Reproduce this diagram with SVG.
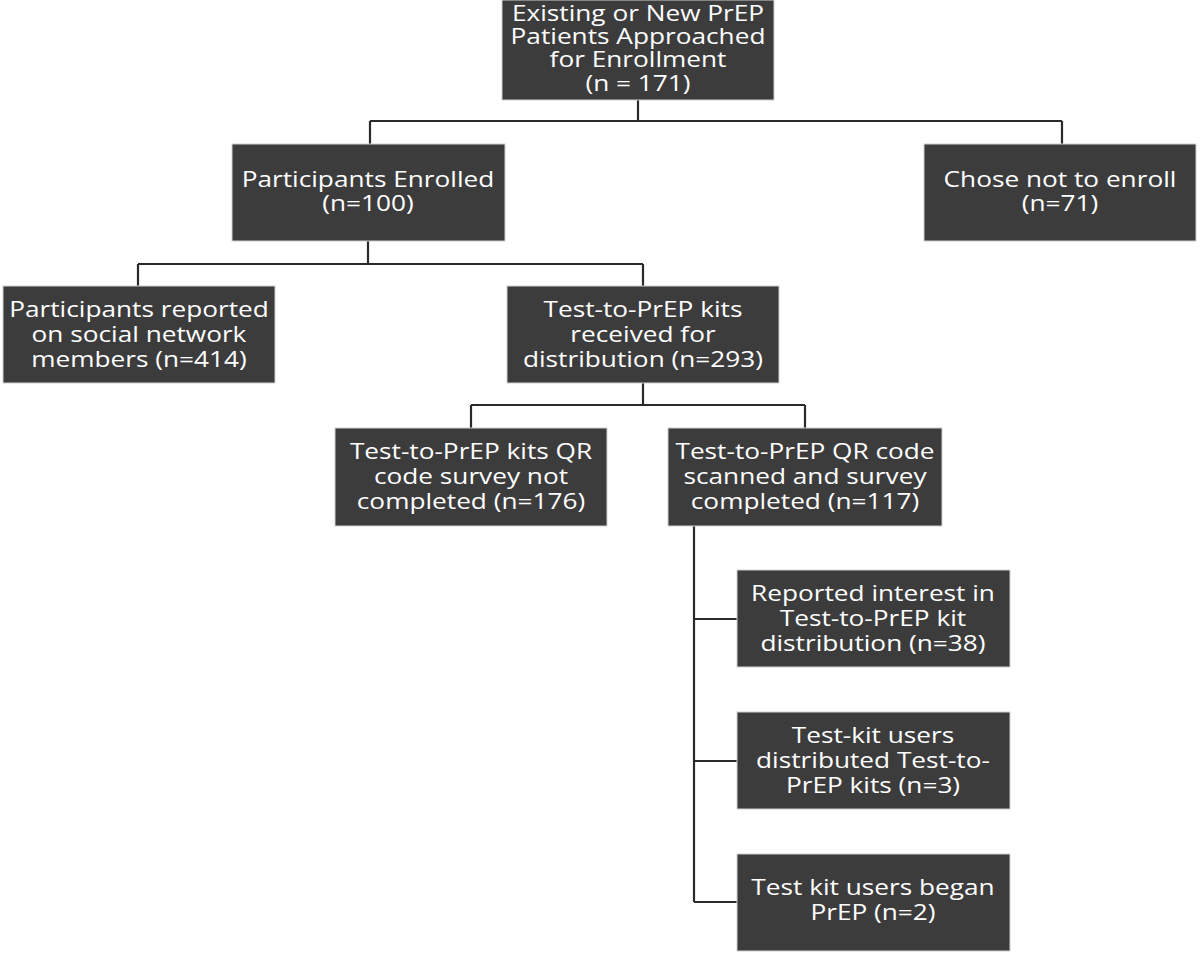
<svg xmlns="http://www.w3.org/2000/svg" width="1200" height="954" viewBox="0 0 1200 954">
<style>
.box{fill:#3c3c3c;stroke:#d0d0d0;stroke-width:1}
.t{font-family:"Open Sans","Liberation Sans",sans-serif;font-size:21.5px;fill:#ffffff;text-anchor:middle}
.c{fill:none;stroke:#2a2a2a;stroke-width:2.2}
</style>
<rect width="1200" height="954" fill="#ffffff"/>
<g id="connectors">
<path class="c" d="M638,100 V121 M370,121 H1062 M370,121 V144 M1062,121 V144"/>
<path class="c" d="M368,241 V264 M138,264 H643 M138,264 V286 M643,264 V286"/>
<path class="c" d="M643,383 V405 M471,405 H805 M471,405 V428 M805,405 V428"/>
<path class="c" d="M694,526 V902 M694,619 H737 M694,761 H737 M694,902 H737"/>
</g>
<g id="n1"><rect class="box" x="502" y="0" width="272" height="100"/>
<text class="t" transform="translate(638,21) scale(1.22,1)">Existing or New PrEP</text>
<text class="t" transform="translate(638,44) scale(1.22,1)">Patients Approached</text>
<text class="t" transform="translate(638,67) scale(1.22,1)">for Enrollment</text>
<text class="t" transform="translate(638,91) scale(1.22,1)">(n = 171)</text></g>
<g id="n2"><rect class="box" x="232" y="144" width="273" height="97"/>
<text class="t" transform="translate(368,187) scale(1.22,1)">Participants Enrolled</text>
<text class="t" transform="translate(368,211) scale(1.22,1)">(n=100)</text></g>
<g id="n3"><rect class="box" x="924" y="144" width="272" height="97"/>
<text class="t" transform="translate(1060,187) scale(1.22,1)">Chose not to enroll</text>
<text class="t" transform="translate(1060,211) scale(1.22,1)">(n=71)</text></g>
<g id="n4"><rect class="box" x="3" y="286" width="272" height="97"/>
<text class="t" transform="translate(139,317) scale(1.22,1)">Participants reported</text>
<text class="t" transform="translate(139,342) scale(1.22,1)">on social network</text>
<text class="t" transform="translate(139,367) scale(1.22,1)">members (n=414)</text></g>
<g id="n5"><rect class="box" x="507" y="286" width="272" height="97"/>
<text class="t" transform="translate(643,317) scale(1.22,1)">Test-to-PrEP kits</text>
<text class="t" transform="translate(643,342) scale(1.22,1)">received for</text>
<text class="t" transform="translate(643,367) scale(1.22,1)">distribution (n=293)</text></g>
<g id="n6"><rect class="box" x="335" y="428" width="272" height="98"/>
<text class="t" transform="translate(471,459) scale(1.22,1)">Test-to-PrEP kits QR</text>
<text class="t" transform="translate(471,484) scale(1.22,1)">code survey not</text>
<text class="t" transform="translate(471,509) scale(1.22,1)">completed (n=176)</text></g>
<g id="n7"><rect class="box" x="668" y="428" width="274" height="98"/>
<text class="t" transform="translate(805,459) scale(1.22,1)">Test-to-PrEP QR code</text>
<text class="t" transform="translate(805,484) scale(1.22,1)">scanned and survey</text>
<text class="t" transform="translate(805,509) scale(1.22,1)">completed (n=117)</text></g>
<g id="n8"><rect class="box" x="737" y="570" width="273" height="97"/>
<text class="t" transform="translate(873,601) scale(1.22,1)">Reported interest in</text>
<text class="t" transform="translate(873,626) scale(1.22,1)">Test-to-PrEP kit</text>
<text class="t" transform="translate(873,651) scale(1.22,1)">distribution (n=38)</text></g>
<g id="n9"><rect class="box" x="737" y="712" width="273" height="97"/>
<text class="t" transform="translate(873,743) scale(1.22,1)">Test-kit users</text>
<text class="t" transform="translate(873,768) scale(1.22,1)">distributed Test-to-</text>
<text class="t" transform="translate(873,793) scale(1.22,1)">PrEP kits (n=3)</text></g>
<g id="n10"><rect class="box" x="737" y="854" width="273" height="97"/>
<text class="t" transform="translate(873,895) scale(1.22,1)">Test kit users began</text>
<text class="t" transform="translate(873,920) scale(1.22,1)">PrEP (n=2)</text></g>
</svg>
